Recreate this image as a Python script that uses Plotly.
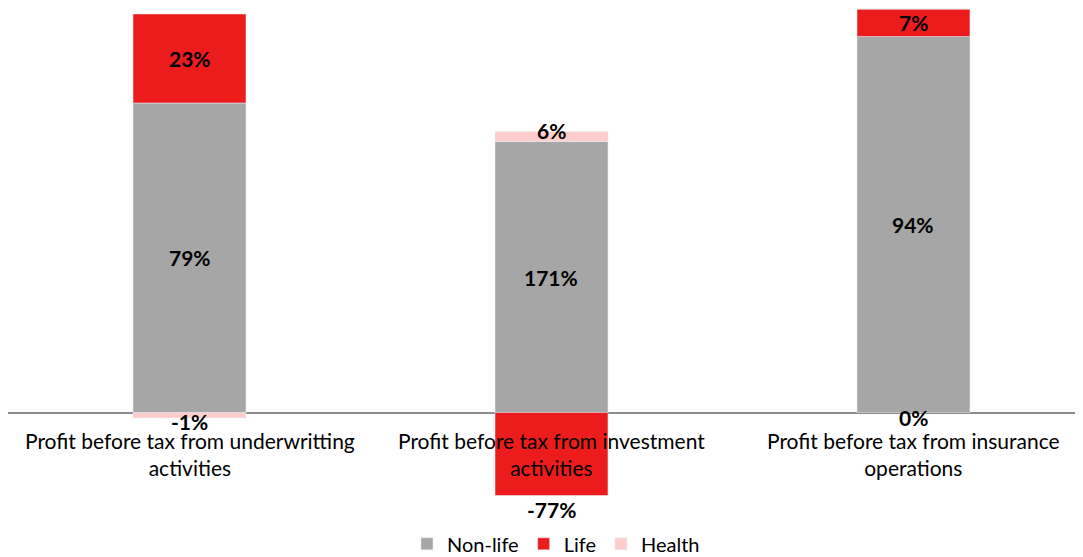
import plotly.graph_objects as go

categories = ["Profit before tax from underwritting<br>activities",
              "Profit before tax from investment<br>activities",
              "Profit before tax from insurance<br>operations"]
non_life = [309.5, 271, 376]
life = [89, -83, 27.5]
health = [-5.5, 10, 0]
non_life_lbl = ["79%", "171%", "94%"]
life_lbl = ["23%", "-77%", "7%"]
health_lbl = ["-1%", "6%", "0%"]

FONT = "Lato"
x = [0, 1, 2]

fig = go.Figure()
fig.add_bar(x=x, y=non_life, name="Non-life", marker_color="#A6A6A6", width=0.312)
fig.add_bar(x=x, y=life, name="Life", marker_color="#ED1C1C", width=0.312)
fig.add_bar(x=x, y=health, name="Health", marker_color="#FFCCCC", width=0.312)

ann = []
for i in x:
    pos, neg = 0, 0
    segs = []
    for v, lbl, kind in [(non_life[i], non_life_lbl[i], "nl"), (life[i], life_lbl[i], "l"), (health[i], health_lbl[i], "h")]:
        if v > 0:
            lo, hi = pos, pos + v
            pos = hi
        elif v < 0:
            lo, hi = neg + v, neg
            neg = lo
        else:
            lo, hi = 0, 0
        segs.append((v, lo, hi, lbl, kind))
    for v, lo, hi, lbl, kind in segs:
        if kind == "h":
            if v > 0:
                ann.append(dict(x=i, y=hi, text=lbl, yanchor="middle", yshift=1))
            else:
                ann.append(dict(x=i, y=lo, text=lbl, yanchor="middle", yshift=-3 if v < 0 else -5))
        elif v < 0:
            ann.append(dict(x=i, y=lo, text=lbl, yanchor="top", yshift=1))
        else:
            ann.append(dict(x=i, y=(lo + hi) / 2, text=lbl, yanchor="middle"))
for a in ann:
    a.update(showarrow=False, font=dict(family=FONT, size=21, color="black", weight="bold"))

for i, c in zip(x, categories):
    ann.append(dict(x=i, y=0, text=c, showarrow=False, yanchor="top", yshift=-13,
                    font=dict(family=FONT, size=21, color="black")))

fig.update_layout(
    barmode="relative",
    width=1083, height=557,
    margin=dict(l=0, r=0, t=0, b=0),
    plot_bgcolor="white", paper_bgcolor="white",
    annotations=ann,
    showlegend=True,
    legend=dict(orientation="h", x=0.506, xanchor="center", y=0.038, yanchor="middle",
                font=dict(family=FONT, size=20, color="black"), itemwidth=30,
                traceorder="normal"),
    xaxis=dict(range=[-0.5014, 2.4904], showticklabels=False, showgrid=False, zeroline=False,
               fixedrange=True),
    yaxis=dict(range=[-152.5, 404.5], showticklabels=False, showgrid=False,
               zeroline=True, zerolinecolor="#8C8C8C", zerolinewidth=2),
)

fig.write_html("out.html")
